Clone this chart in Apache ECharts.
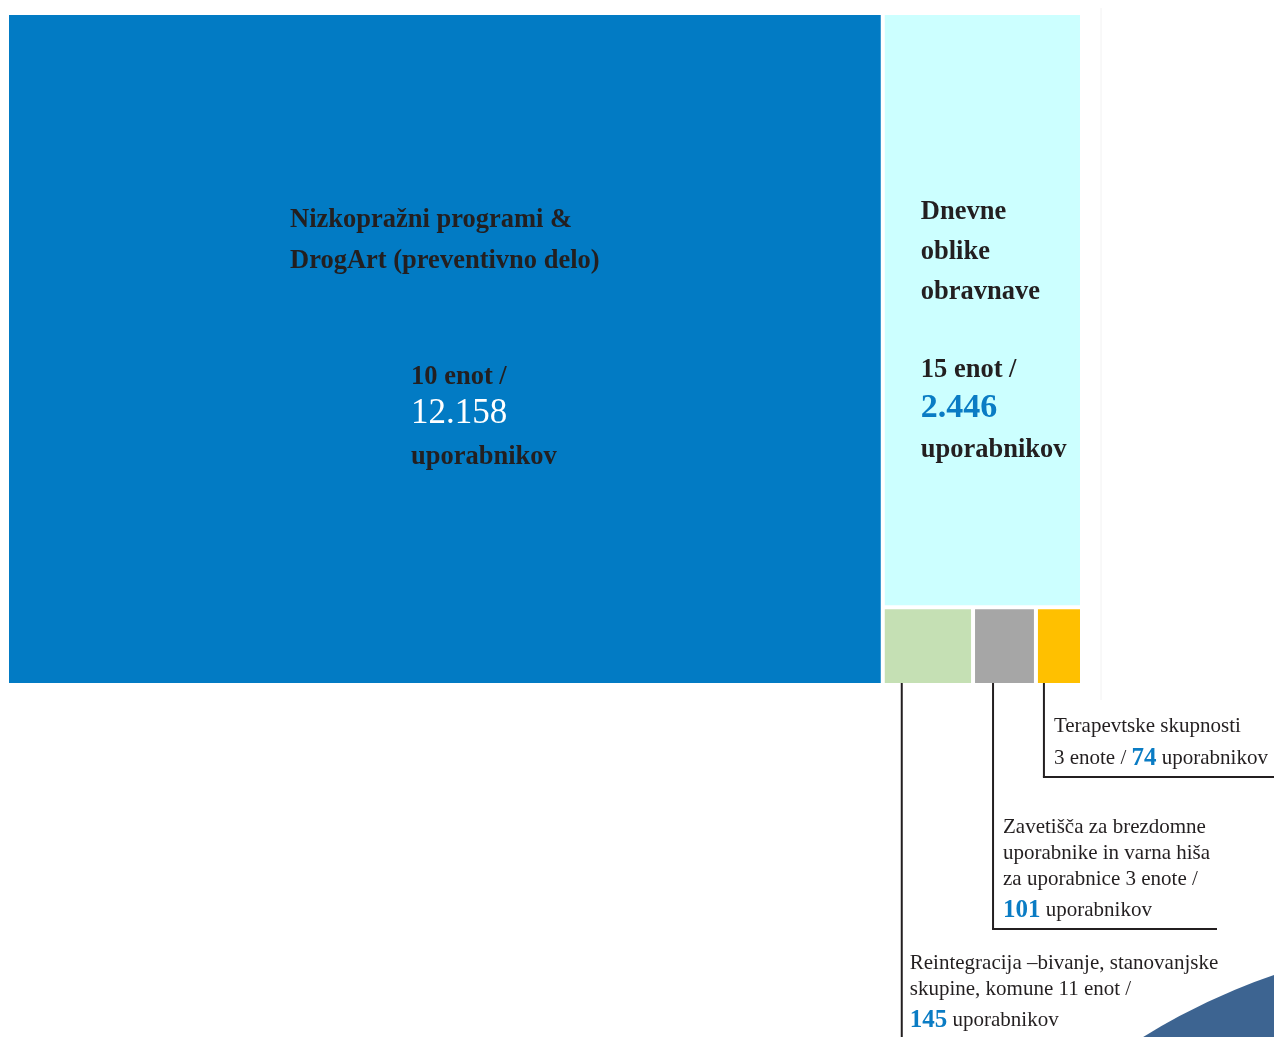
<!DOCTYPE html>
<html>
<head>
<meta charset="utf-8">
<style>
  html, body { margin: 0; padding: 0; background: #fff; }
  #chart { width: 1274px; height: 1037px; }
</style>
<script src="https://cdn.jsdelivr.net/npm/echarts@6/dist/echarts.min.js"></script>
</head>
<body>
<div id="chart"></div>
<script>
// podatki
const titles = [
  ['Nizkopražni programi &', 'DrogArt (preventivno delo)'],
  ['Dnevne', 'oblike', 'obravnave'],
  ['Reintegracija –bivanje, stanovanjske', 'skupine, komune'],
  ['Zavetišča za brezdomne', 'uporabnike in varna hiša', 'za uporabnice'],
  ['Terapevtske skupnosti']
];
const units = ['10 enot', '15 enot', '11 enot', '3 enote', '3 enote'];
const users = [12158, 2446, 145, 101, 74];
const colors = ['#027bc4', '#ccffff', '#c5e0b4', '#a6a6a6', '#ffc000'];

const FONT = 'Liberation Serif';
const DARK = '#231f20';
const BLUE = '#0a7cc4';

const fmt = v => String(v).replace(/\B(?=(\d{3})+(?!\d))/g, '.');

// položaj napisov glede na celico
const labelPos = [[281, 185], [36, 177], [25, 341], [28, 205], [16, 101]];
// črte do napisov: odmik od levega roba celice, konec navpične črte, konec vodoravne
const leaders = {
  2: { dx: 17, bottom: 1037, right: null },
  3: { dx: 18, bottom: 929, right: 1217 },
  4: { dx: 6, bottom: 777, right: 1274 }
};

function labelText(i) {
  const v = fmt(users[i]);
  if (i === 0) {
    return titles[0].map(t => '{t|' + t + '}').join('\n') +
      '\n{g0| }\n{s0|' + units[0] + ' /}\n{n0|' + v + '}\n{u0|uporabnikov}';
  }
  if (i === 1) {
    return titles[1].map(t => '{t1|' + t + '}').join('\n') +
      '\n{g1| }\n{s|' + units[1] + ' /}\n{n1|' + v + '}\n{u|uporabnikov}';
  }
  if (i === 4) {
    return '{y|' + titles[4][0] + '}\n{y|' + units[4] + ' / }{yb|' + v + '}{y| uporabnikov}';
  }
  const lines = titles[i].slice();
  lines[lines.length - 1] += ' ' + units[i] + ' /';
  return lines.map(t => '{c|' + t + '}').join('\n') + '\n{cb|' + v + '}{c| uporabnikov}';
}

const rich = {
  t: { fontFamily: FONT, fontWeight: 'bold', fontSize: 26.5, lineHeight: 41, color: DARK },
  t1: { fontFamily: FONT, fontWeight: 'bold', fontSize: 26.5, lineHeight: 40, color: DARK },
  g0: { fontSize: 10, lineHeight: 76 },
  g1: { fontSize: 10, lineHeight: 38 },
  s0: { fontFamily: FONT, fontWeight: 'bold', fontSize: 26.5, lineHeight: 38, color: DARK, padding: [0, 0, 0, 121] },
  n0: { fontFamily: FONT, fontWeight: 'normal', fontSize: 35, lineHeight: 36, color: '#fff', padding: [0, 0, 0, 121] },
  u0: { fontFamily: FONT, fontWeight: 'bold', fontSize: 26.5, lineHeight: 50, color: DARK, padding: [0, 0, 0, 121] },
  s: { fontFamily: FONT, fontWeight: 'bold', fontSize: 26.5, lineHeight: 40, color: DARK },
  n1: { fontFamily: FONT, fontWeight: 'bold', fontSize: 34, lineHeight: 36, color: BLUE },
  u: { fontFamily: FONT, fontWeight: 'bold', fontSize: 26.5, lineHeight: 48, color: DARK }
};

// napisi ob malih celicah (graphic text -> fill namesto color)
const richOut = {
  c: { fontFamily: FONT, fontSize: 21, lineHeight: 26, fill: DARK },
  cb: { fontFamily: FONT, fontWeight: 'bold', fontSize: 25, lineHeight: 36, fill: BLUE },
  y: { fontFamily: FONT, fontSize: 21, lineHeight: 32, fill: DARK },
  yb: { fontFamily: FONT, fontWeight: 'bold', fontSize: 25, lineHeight: 32, fill: BLUE }
};

const chart = echarts.init(document.getElementById('chart'));

const option = {
  animation: false,
  series: [{
    type: 'treemap',
    left: 9,
    top: 15,
    width: 1071,
    height: 668,
    roam: false,
    nodeClick: false,
    silent: true,
    breadcrumb: { show: false },
    levels: [{ itemStyle: { gapWidth: 4, borderWidth: 0 } }],
    label: { padding: 0, overflow: 'none' },
    data: users.map((v, i) => ({
      name: titles[i].join(' '),
      value: v,
      itemStyle: { color: colors[i] },
      label: {
        // napisi malih celic so zunaj celic, rišemo jih spodaj
        show: i < 2,
        position: labelPos[i],
        align: 'left',
        verticalAlign: 'top',
        formatter: () => labelText(i),
        rich: rich
      }
    }))
  }],
  graphic: [
    { type: 'line', shape: { x1: 1101, y1: 8, x2: 1101, y2: 700 }, style: { stroke: '#f2f2f2', lineWidth: 1 }, silent: true },
    { type: 'circle', shape: { cx: 1475, cy: 1569, r: 627 }, style: { fill: '#3d6491' }, silent: true }
  ]
};

chart.setOption(option);

// črte in napisi malih celic iz postavitve celic
let leadersDone = false;
chart.on('finished', () => {
  if (leadersDone) return;
  leadersDone = true;
  const series = chart.getModel().getSeriesByIndex(0);
  const info = series.layoutInfo;
  const root = series.getData().tree.root;
  const extra = [];
  root.children.forEach((node, i) => {
    const cfg = leaders[i];
    if (!cfg) return;
    const l = node.getLayout();
    const left = info.x + l.x;
    const top = info.y + l.y;
    const x = left + cfg.dx;
    const yTop = top + l.height;
    extra.push({ type: 'line', shape: { x1: x, y1: yTop, x2: x, y2: cfg.bottom }, style: { stroke: DARK, lineWidth: 2 }, silent: true });
    if (cfg.right) {
      extra.push({ type: 'line', shape: { x1: x - 1, y1: cfg.bottom, x2: cfg.right, y2: cfg.bottom }, style: { stroke: DARK, lineWidth: 2 }, silent: true });
    }
    extra.push({
      type: 'text',
      x: left + labelPos[i][0],
      y: top + labelPos[i][1],
      silent: true,
      style: { text: labelText(i), rich: richOut, fill: DARK, align: 'left', verticalAlign: 'top' }
    });
  });
  chart.setOption({ graphic: option.graphic.concat(extra) });
});
</script>
</body>
</html>
